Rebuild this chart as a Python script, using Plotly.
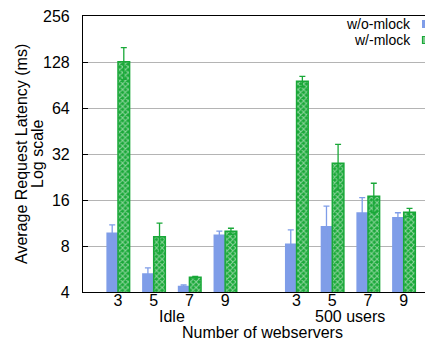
import plotly.graph_objects as go

# ---- data ----
positions = [0, 1, 2, 3, 5, 6, 7, 8]
tick_labels = ["3", "5", "7", "9", "3", "5", "7", "9"]
group_labels = ["Idle", "500 users"]
group_centers = [1.5, 6.5]

wo_mlock = [9.8, 5.3, 4.4, 9.5, 8.3, 10.8, 13.3, 12.4]
wo_err_hi = [11.0, 5.75, 4.45, 10.0, 10.2, 14.6, 16.6, 13.2]
wo_err_lo = [8.6, 4.9, 4.35, 9.1, 6.4, 7.0, 10.0, 11.6]

w_mlock = [128.6, 9.2, 5.0, 10.0, 95.7, 27.8, 16.9, 13.3]
w_err_hi = [158.8, 11.3, 5.06, 10.45, 103.2, 37.0, 20.6, 14.1]
w_err_lo = [98.4, 7.2, 4.94, 9.55, 88.2, 18.6, 13.2, 12.5]

y_ticks = [4, 8, 16, 32, 64, 128, 256]

BLUE = "#7f9de8"
GREEN = "#19a838"
FONT = "Liberation Sans, Arial, sans-serif"

def up(v, hi):
    return [h - x for x, h in zip(v, hi)]

def down(v, lo):
    return [x - l for x, l in zip(v, lo)]

fig = go.Figure()
fig.add_trace(go.Bar(
    x=positions, y=wo_mlock, name="w/o-mlock",
    marker=dict(color=BLUE, line=dict(width=0)),
    error_y=dict(type="data", symmetric=False, array=up(wo_mlock, wo_err_hi),
                 arrayminus=down(wo_mlock, wo_err_lo), color=BLUE, thickness=1.3, width=3),
    showlegend=False,
))
fig.add_trace(go.Bar(
    x=positions, y=w_mlock, name="w/-mlock",
    marker=dict(color=GREEN, line=dict(color=GREEN, width=1.5),
                pattern=dict(shape="x", fgcolor="white", bgcolor=GREEN, size=4, solidity=0.45)),
    error_y=dict(type="data", symmetric=False, array=up(w_mlock, w_err_hi),
                 arrayminus=down(w_mlock, w_err_lo), color=GREEN, thickness=1.3, width=3),
    showlegend=False,
))

# page has an 8px body margin; page coords = 8 + figure coords
OFF = 8
W, H = 433 - OFF, 341 - OFF
PL, PT, PB = 83, 16, 292          # plot edges in page pixels
L, T, R = PL - OFF, PT - OFF, 0
B = (H + OFF) - PB
pw, ph = (433 - PL), (PB - PT)

def px_x(p):
    return (p - PL) / pw

def px_y(p):
    return (PB - p) / ph

annotations = []
for lbl, c in zip(group_labels, group_centers):
    annotations.append(dict(x=c, xref="x", y=0, yref="paper", yanchor="middle",
                            yshift=-24, text=lbl, showarrow=False,
                            font=dict(size=16, family=FONT, color="black")))
annotations.append(dict(x=px_x(262), xref="paper", y=0, yref="paper", yanchor="middle",
                        yshift=-40, text="Number of webservers", showarrow=False,
                        font=dict(size=16, family=FONT, color="black")))
annotations.append(dict(x=px_x(21), xref="paper", xanchor="center", y=0.5, yref="paper",
                        yanchor="middle", textangle=-90, text="Average Request Latency (ms)",
                        showarrow=False, font=dict(size=16, family=FONT, color="black")))
annotations.append(dict(x=px_x(37), xref="paper", xanchor="center", y=0.5, yref="paper",
                        yanchor="middle", textangle=-90, text="Log scale",
                        showarrow=False, font=dict(size=16, family=FONT, color="black")))
# legend text
annotations.append(dict(x=px_x(413), xref="paper", xanchor="right", y=px_y(24), yref="paper",
                        yanchor="middle", text="w/o-mlock", showarrow=False,
                        font=dict(size=14, family=FONT, color="black")))
annotations.append(dict(x=px_x(413), xref="paper", xanchor="right", y=px_y(40), yref="paper",
                        yanchor="middle", text="w/-mlock", showarrow=False,
                        font=dict(size=14, family=FONT, color="black")))

shapes = [
    dict(type="rect", xref="paper", yref="paper", x0=px_x(327), x1=1.0, y0=px_y(66), y1=px_y(17),
         fillcolor="white", line=dict(width=0), layer="between"),
    dict(type="rect", xref="paper", yref="paper", x0=px_x(422), x1=1.0, y0=px_y(28), y1=px_y(20),
         fillcolor=BLUE, line=dict(width=0), layer="above"),
    dict(type="rect", xref="paper", yref="paper", x0=px_x(422.5), x1=1.02, y0=px_y(43.5), y1=px_y(36.5),
         fillcolor="#7fcc8e", line=dict(color=GREEN, width=1.2), layer="above"),
]

fig.update_layout(
    width=W, height=H,
    margin=dict(l=L, r=R, t=T, b=B, pad=0, autoexpand=False),
    paper_bgcolor="white", plot_bgcolor="white",
    barmode="group", bargap=0.35, bargroupgap=0,
    font=dict(family=FONT, size=16, color="black"),
    annotations=annotations, shapes=shapes,
    xaxis=dict(range=[-0.98, 8.82], tickvals=positions, ticktext=tick_labels,
               automargin=False,
               showgrid=False, zeroline=False, showline=True, linecolor="black", linewidth=1.2,
               mirror=True, ticks="", ticklen=0, ticklabelstandoff=-6,
               tickfont=dict(size=16, family=FONT)),
    yaxis=dict(type="log", range=[0.60206, 2.40826], tickvals=y_ticks,
               ticktext=[str(v) for v in y_ticks], automargin=False,
               showgrid=True, gridcolor="#b4b4b4", gridwidth=1.2,
               showline=True, linecolor="black", linewidth=1.2,
               ticks="inside", ticklen=5, tickcolor="black",
               ticklabelstandoff=9, ticklabeloverflow="allow",
               tickfont=dict(size=16, family=FONT)),
)

fig.write_html("out.html")
